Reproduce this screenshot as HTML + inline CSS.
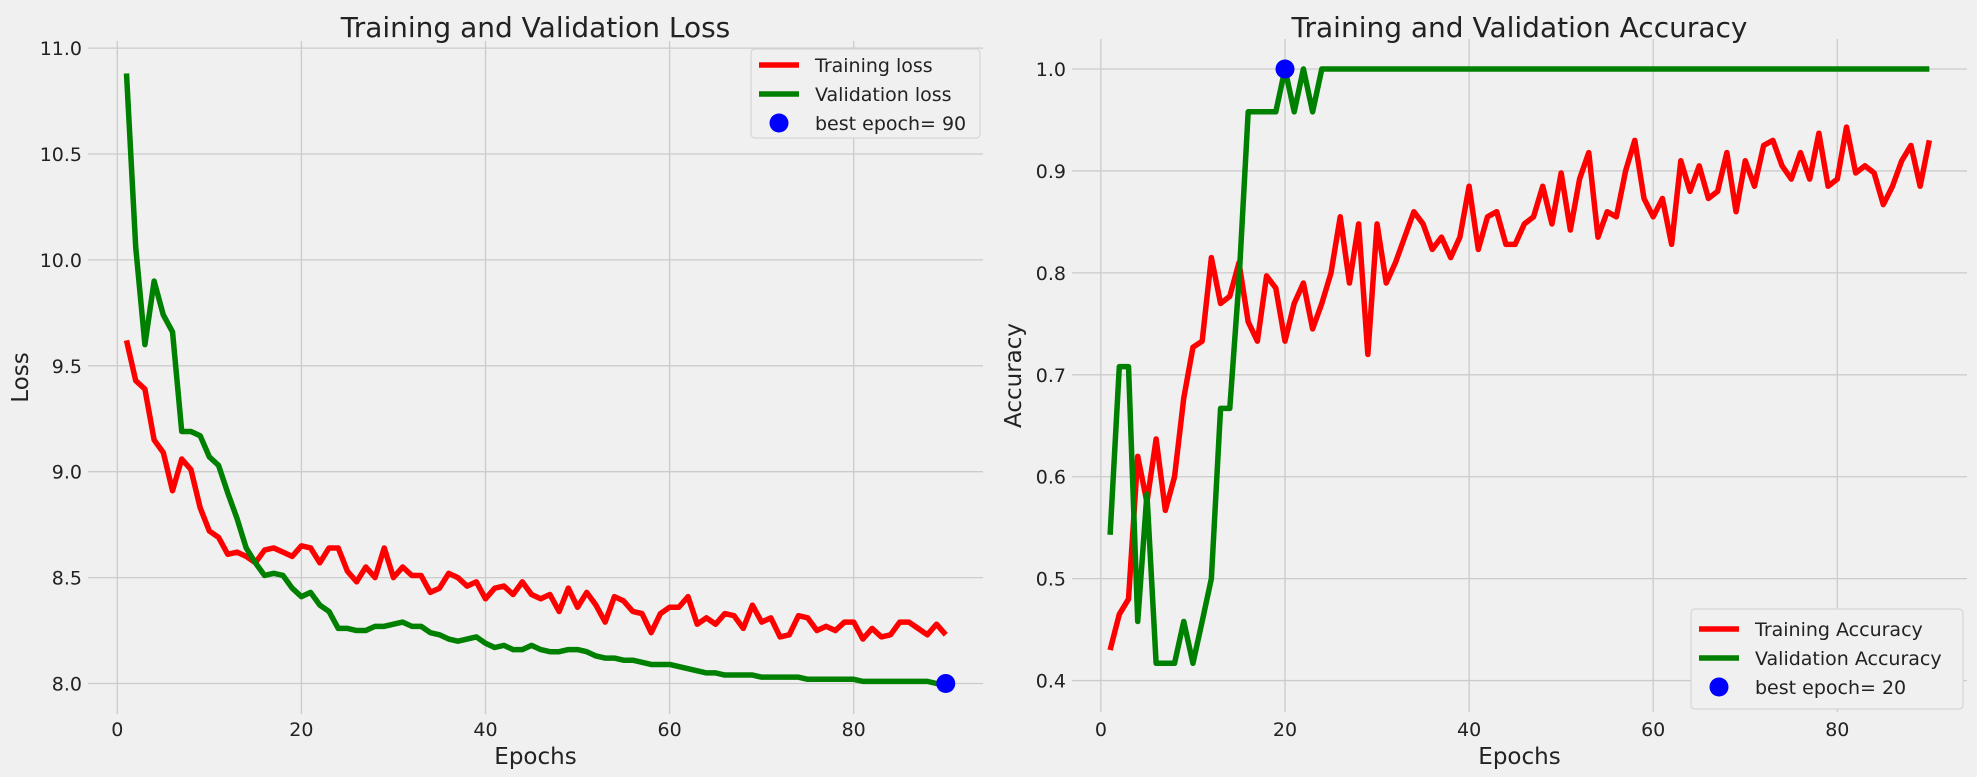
<!DOCTYPE html>
<html><head><meta charset="utf-8"><style>
body{margin:0;background:#f0f0f0;}
svg{display:block;font-family:"DejaVu Sans","Liberation Sans",sans-serif;}
</style></head><body>
<svg id="c" width="1977" height="777"></svg>
<script>
const epochs = Array.from({length:90},(_,i)=>i+1);
const trainLoss=[9.62,9.43,9.39,9.15,9.09,8.91,9.06,9.01,8.83,8.72,8.69,8.61,8.62,8.60,8.57,8.63,8.64,8.62,8.60,8.65,8.64,8.57,8.64,8.64,8.53,8.48,8.55,8.50,8.64,8.50,8.55,8.51,8.51,8.43,8.45,8.52,8.50,8.46,8.48,8.40,8.45,8.46,8.42,8.48,8.42,8.40,8.42,8.34,8.45,8.36,8.43,8.37,8.29,8.41,8.39,8.34,8.33,8.24,8.33,8.36,8.36,8.41,8.28,8.31,8.28,8.33,8.32,8.26,8.37,8.29,8.31,8.22,8.23,8.32,8.31,8.25,8.27,8.25,8.29,8.29,8.21,8.26,8.22,8.23,8.29,8.29,8.26,8.23,8.28,8.23];
const valLoss=[10.88,10.06,9.60,9.90,9.74,9.66,9.19,9.19,9.17,9.07,9.03,8.90,8.78,8.64,8.57,8.51,8.52,8.51,8.45,8.41,8.43,8.37,8.34,8.26,8.26,8.25,8.25,8.27,8.27,8.28,8.29,8.27,8.27,8.24,8.23,8.21,8.20,8.21,8.22,8.19,8.17,8.18,8.16,8.16,8.18,8.16,8.15,8.15,8.16,8.16,8.15,8.13,8.12,8.12,8.11,8.11,8.10,8.09,8.09,8.09,8.08,8.07,8.06,8.05,8.05,8.04,8.04,8.04,8.04,8.03,8.03,8.03,8.03,8.03,8.02,8.02,8.02,8.02,8.02,8.02,8.01,8.01,8.01,8.01,8.01,8.01,8.01,8.01,8.00,8.00];
const trainAcc=[0.43,0.465,0.48,0.62,0.575,0.637,0.567,0.60,0.677,0.727,0.733,0.815,0.77,0.777,0.81,0.752,0.733,0.797,0.785,0.733,0.77,0.79,0.745,0.77,0.80,0.855,0.79,0.848,0.72,0.848,0.79,0.81,0.835,0.86,0.848,0.823,0.835,0.815,0.835,0.885,0.823,0.855,0.86,0.828,0.828,0.848,0.855,0.885,0.848,0.898,0.842,0.892,0.918,0.835,0.86,0.855,0.90,0.93,0.873,0.855,0.873,0.828,0.91,0.88,0.905,0.873,0.88,0.918,0.86,0.91,0.885,0.925,0.93,0.905,0.892,0.918,0.892,0.937,0.885,0.892,0.943,0.898,0.905,0.898,0.867,0.885,0.91,0.925,0.885,0.93];
const valAcc=[0.543,0.708,0.708,0.458,0.583,0.417,0.417,0.417,0.458,0.417,0.458,0.5,0.667,0.667,0.792,0.958,0.958,0.958,0.958,1.0,0.958,1.0,0.958].concat(Array(67).fill(1.0));
const xTicks=[0,20,40,60,80];
const lossTicks=[8.0,8.5,9.0,9.5,10.0,10.5,11.0];
const accTicks=[0.4,0.5,0.6,0.7,0.8,0.9,1.0];
const bestLoss={epoch:90,value:8.00};
const bestAcc={epoch:20,value:1.0};

const NS='http://www.w3.org/2000/svg';
const svg=document.getElementById('c');
function mk(tag,attrs,parent){const e=document.createElementNS(NS,tag);for(const k in attrs)e.setAttribute(k,attrs[k]);(parent||svg).appendChild(e);return e;}

function panel(cfg){
  const g=mk('g',{});
  
  
  const X=e=>cfg.x0+cfg.xs*e, Y=v=>cfg.y0-cfg.ys*(v-cfg.vbase);
  xTicks.forEach(t=>{
    const l=mk('line',{x1:X(t),x2:X(t),y1:cfg.top,y2:cfg.bottom,stroke:'#cbcbcb','stroke-width':1.3},g);
    
    
    const tx=mk('text',{x:X(t),y:736,'font-size':19,'text-anchor':'middle',fill:'#222'},g);
    tx.textContent=t;
    
    
  });
  cfg.yTicks.forEach(t=>{
    const l=mk('line',{x1:cfg.left,x2:cfg.right,y1:Y(t),y2:Y(t),stroke:'#cbcbcb','stroke-width':1.3},g);
    
    
    const tx=mk('text',{x:cfg.left-6,y:Y(t)+7,'font-size':19,'text-anchor':'end',fill:'#222'},g);
    tx.textContent=t.toFixed(1);
    
    
  });
  const series=[[cfg.s1,'red',cfg.n1],[cfg.s2,'green',cfg.n2]];
  series.forEach(([s,c,n])=>{
    const p=mk('polyline',{points:s.map((v,i)=>X(epochs[i])+','+Y(v)).join(' '),fill:'none',stroke:c,'stroke-width':5.5,'stroke-linejoin':'round'},g);
    
    
  });
  const m=mk('circle',{cx:X(cfg.best.epoch),cy:Y(cfg.best.value),r:9.5,fill:'blue'},g);
  
  
  const cx=(cfg.left+cfg.right)/2;
  const ti=mk('text',{x:cx,y:37,'font-size':28,'text-anchor':'middle',fill:'#222'},g);
  ti.textContent=cfg.title;
  
  
  const xl=mk('text',{x:cx,y:764,'font-size':23,'text-anchor':'middle',fill:'#222'},g);
  xl.textContent='Epochs';
  
  
  const yl=mk('text',{x:0,y:0,'font-size':23,'text-anchor':'middle',fill:'#222',transform:`translate(${cfg.ylx},${(cfg.top+cfg.bottom)/2}) rotate(-90)`},g);
  yl.textContent=cfg.ylabel;
  
  
  // legend
  const L=cfg.leg;
  const lg=mk('g',{},g);
  
  
  mk('rect',{x:L.x,y:L.y,width:L.w,height:L.h,rx:4,fill:'#f0f0f0',stroke:'#d6d6d6','stroke-width':1.2},lg);
  cfg.labels.forEach((lab,i)=>{
    const yy=L.y+L.first+i*29;
    if(i<2){mk('line',{x1:L.x+8,x2:L.x+48,y1:yy,y2:yy,stroke:i?'green':'red','stroke-width':5.5},lg);}
    else{mk('circle',{cx:L.x+28,cy:yy,r:9.5,fill:'blue'},lg);}
    const t=mk('text',{x:L.x+64,y:yy+7,'font-size':19,fill:'#222'},lg);
    t.textContent=lab;
    
    
  });
}
panel({name:'loss-chart',x0:117.3,xs:9.205,y0:683.5,ys:211.8,vbase:8,left:88,right:983,top:41,bottom:714,
  yTicks:lossTicks,s1:trainLoss,s2:valLoss,n1:'training-loss-line',n2:'validation-loss-line',best:bestLoss,
  title:'Training and Validation Loss',ylabel:'Loss',ylx:28,
  leg:{x:751,y:49,w:229,h:89,first:16},labels:['Training loss','Validation loss','best epoch= 90']});
panel({name:'accuracy-chart',x0:1100.9,xs:9.205,y0:69,ys:1019.3,vbase:1,left:1072,right:1967,top:39,bottom:712,
  yTicks:accTicks,s1:trainAcc,s2:valAcc,n1:'training-accuracy-line',n2:'validation-accuracy-line',best:bestAcc,
  title:'Training and Validation Accuracy',ylabel:'Accuracy',ylx:1021,
  leg:{x:1691,y:609,w:272,h:100,first:20},labels:['Training Accuracy','Validation Accuracy','best epoch= 20']});
</script>
</body></html>
